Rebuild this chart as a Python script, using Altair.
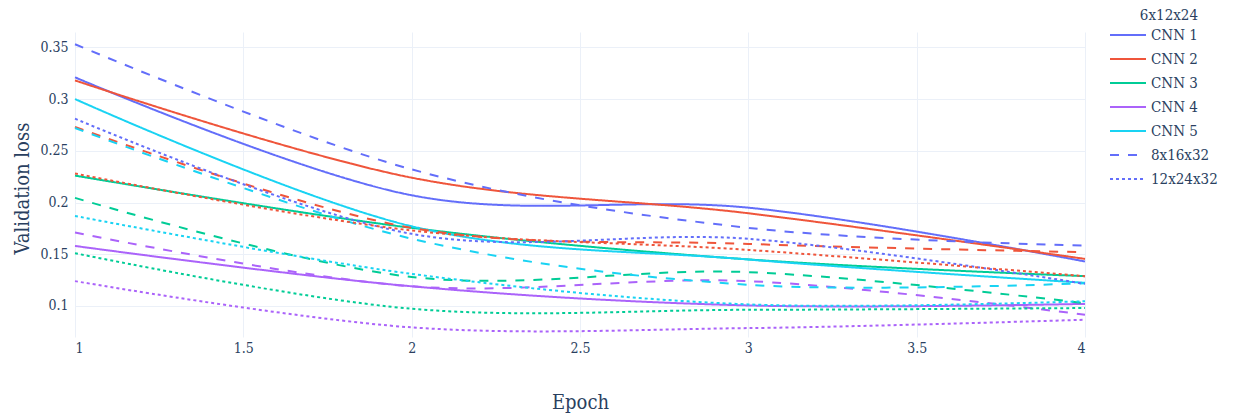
import altair as alt
import pandas as pd

epochs = [1, 2, 3, 4]
models = ["CNN 1", "CNN 2", "CNN 3", "CNN 4", "CNN 5"]
archs = ["6x12x24", "8x16x32", "12x24x32"]
colors = ["#636efa", "#EF553B", "#00cc96", "#ab63fa", "#19d3f3"]

# validation loss per architecture, per model, per epoch
loss_6x12x24 = {
    "CNN 1": [0.321, 0.207, 0.195, 0.143],
    "CNN 2": [0.318, 0.224, 0.1896, 0.1455],
    "CNN 3": [0.226, 0.1755, 0.145, 0.1288],
    "CNN 4": [0.158, 0.119, 0.1005, 0.102],
    "CNN 5": [0.300, 0.177, 0.1449, 0.1224],
}
loss_8x16x32 = {
    "CNN 1": [0.353, 0.232, 0.1755, 0.1584],
    "CNN 2": [0.273, 0.1755, 0.160, 0.152],
    "CNN 3": [0.2045, 0.128, 0.1327, 0.1027],
    "CNN 4": [0.171, 0.119, 0.124, 0.0915],
    "CNN 5": [0.272, 0.165, 0.1205, 0.122],
}
loss_12x24x32 = {
    "CNN 1": [0.281, 0.1697, 0.1649, 0.1214],
    "CNN 2": [0.228, 0.173, 0.1542, 0.1288],
    "CNN 3": [0.151, 0.0973, 0.0963, 0.098],
    "CNN 4": [0.124, 0.0793, 0.0786, 0.0867],
    "CNN 5": [0.187, 0.131, 0.1015, 0.1046],
}

rows = []
for arch, table in zip(archs, [loss_6x12x24, loss_8x16x32, loss_12x24x32]):
    for m in models:
        for e, v in zip(epochs, table[m]):
            rows.append({"Epoch": e, "loss": v, "model": m, "arch": arch,
                         "series": arch + " " + m})
df = pd.DataFrame(rows)

FONT = "DejaVu Serif Condensed, DejaVu Serif"
TXT = "#2a3f5f"
GRID = "#EBF0F8"

chart = alt.Chart(df).mark_line(
    interpolate="cardinal", strokeWidth=2
).encode(
    x=alt.X("Epoch:Q",
            scale=alt.Scale(domain=[1, 4], nice=False, zero=False),
            axis=alt.Axis(values=[1, 1.5, 2, 2.5, 3, 3.5, 4], title="Epoch", format="~g",
                          labelPadding=4, titleY=65, titleBaseline="middle")),
    y=alt.Y("loss:Q",
            scale=alt.Scale(domain=[0.0700, 0.3648], nice=False, zero=False),
            axis=alt.Axis(values=[0.1, 0.15, 0.2, 0.25, 0.3, 0.35], format="~g",
                          title="Validation loss", labelPadding=7,
                          titleX=-53, titleY=156, titleBaseline="middle",
                          titleAlign="center")),
    color=alt.Color("model:N",
                    scale=alt.Scale(domain=models, range=colors),
                    legend=alt.Legend(
                        title=archs[0], orient="none", legendX=1034, legendY=-24,
                        titlePadding=0, titleAnchor="end", titleAlign="right",
                        symbolType="stroke", symbolSize=1296, symbolStrokeWidth=2,
                        clipHeight=24, rowPadding=0, symbolOffset=0)),
    strokeDash=alt.StrokeDash("arch:N",
                              scale=alt.Scale(domain=archs, range=[[1, 0], [9, 9], [3, 3]]),
                              legend=alt.Legend(
                                  title=None, orient="none", legendX=1034, legendY=111,
                                  values=["8x16x32", "12x24x32"],
                                  symbolType="stroke", symbolSize=1296, symbolStrokeWidth=2,
                                  symbolStrokeColor="#636efa", clipHeight=24, rowPadding=0)),
    detail="series:N",
).properties(
    width=1010, height=305,
    autosize=alt.AutoSizeParams(type="none"),
    padding={"left": 75, "top": 32, "right": 150, "bottom": 79},
).configure(
    background="white",
    style={"guide-label": {"font": FONT, "fill": TXT}},
).configure_view(
    stroke=None
).configure_axis(
    labelFont=FONT, titleFont=FONT, labelColor=TXT, titleColor=TXT,
    labelFontSize=14, titleFontSize=20, titleFontWeight="normal",
    gridColor=GRID, gridWidth=1, domain=False, ticks=False,
).configure_legend(
    labelFont=FONT, labelColor=TXT, labelFontSize=15,
    titleFont=FONT, titleColor=TXT, titleFontSize=15, titleFontWeight="normal",
)

chart.save("out.html", embed_options={"renderer": "svg", "actions": False})
